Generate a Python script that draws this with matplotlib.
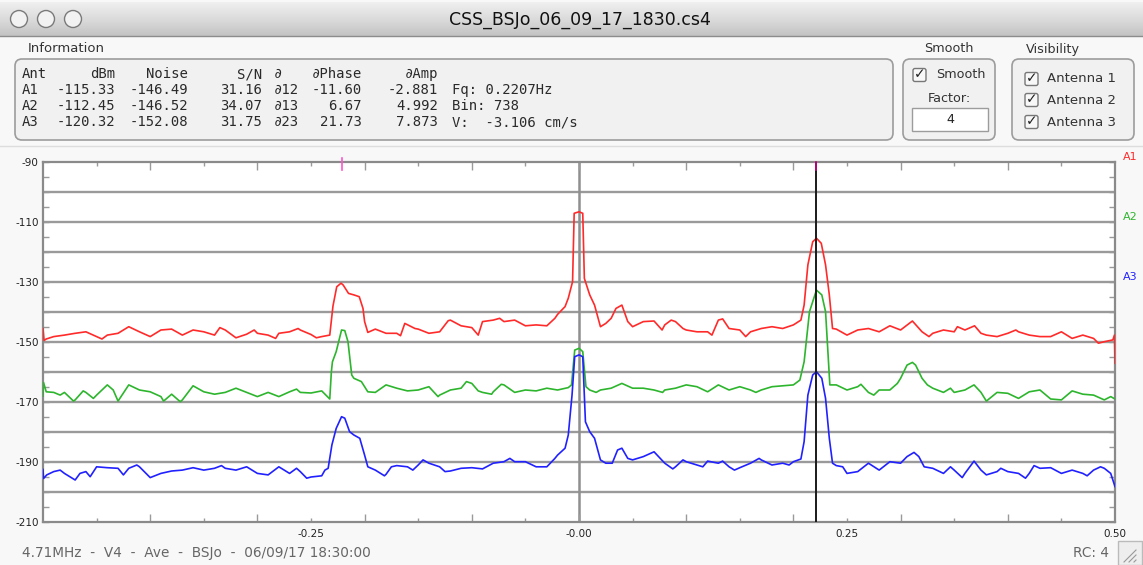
import numpy as np
import matplotlib.pyplot as plt
from matplotlib.patches import FancyBboxPatch, Rectangle, Circle

# spectra: doppler freq (Hz) vs power (dBm)
a1_freq = [-0.5, -0.499, -0.497, -0.49, -0.48, -0.47, -0.46, -0.45, -0.445, -0.44, -0.43, -0.42, -0.41, -0.40,
           -0.39, -0.38, -0.37, -0.36, -0.35, -0.34, -0.335, -0.33, -0.32, -0.31, -0.303, -0.30, -0.29, -0.283,
           -0.28, -0.27, -0.262, -0.26, -0.25, -0.245, -0.24, -0.2325, -0.2295, -0.226, -0.222, -0.22, -0.215,
           -0.21, -0.205, -0.2015, -0.20, -0.197, -0.19, -0.18, -0.17, -0.1665, -0.1625, -0.153, -0.15, -0.14,
           -0.13, -0.122, -0.12, -0.11, -0.10, -0.094, -0.09, -0.08, -0.074, -0.07, -0.06, -0.05, -0.04, -0.03,
           -0.0225, -0.02, -0.013, -0.01, -0.006, -0.0045, 0.0, 0.0035, 0.005, 0.01, 0.0145, 0.02, 0.025, 0.03,
           0.0345, 0.04, 0.0455, 0.05, 0.06, 0.07, 0.0775, 0.08, 0.086, 0.09, 0.097, 0.10, 0.11, 0.12, 0.124,
           0.13, 0.134, 0.14, 0.15, 0.1555, 0.16, 0.17, 0.18, 0.19, 0.20, 0.207, 0.21, 0.2135, 0.218, 0.2215,
           0.226, 0.23, 0.2335, 0.2365, 0.24, 0.25, 0.26, 0.27, 0.28, 0.29, 0.30, 0.311, 0.32, 0.3265, 0.33,
           0.34, 0.35, 0.353, 0.36, 0.369, 0.375, 0.38, 0.39, 0.40, 0.4075, 0.41, 0.42, 0.43, 0.44, 0.45, 0.46,
           0.47, 0.48, 0.4845, 0.49, 0.498, 0.4995, 0.5]
a1_dbm = [-145.5, -149.5, -149.0, -148.2, -147.7, -147.1, -146.6, -148.2, -149.0, -147.7, -147.1, -144.9, -146.6,
          -148.2, -146.0, -145.7, -147.7, -146.0, -146.6, -147.7, -145.2, -146.0, -148.6, -147.4, -146.0, -147.1,
          -147.7, -148.8, -147.1, -146.6, -145.5, -146.0, -147.5, -148.6, -148.2, -147.7, -138.0, -131.6, -130.4,
          -131.0, -133.8, -134.3, -134.9, -138.8, -143.2, -146.8, -145.7, -147.1, -147.1, -147.9, -143.8, -145.5,
          -145.7, -147.1, -146.6, -142.9, -142.7, -144.6, -145.2, -147.7, -143.2, -142.7, -142.1, -143.2, -142.7,
          -144.6, -144.3, -144.6, -142.1, -140.8, -138.2, -135.4, -129.9, -107.1, -106.6, -107.1, -128.8, -134.3,
          -137.7, -144.9, -143.8, -142.1, -138.8, -137.7, -143.2, -144.9, -143.2, -143.0, -146.0, -144.3, -142.7,
          -143.2, -145.5, -146.0, -146.6, -146.6, -147.7, -142.7, -142.3, -145.5, -146.0, -148.2, -146.6, -145.5,
          -144.9, -145.5, -144.3, -142.7, -137.7, -124.3, -116.6, -115.4, -117.1, -124.3, -134.3, -145.5, -145.7,
          -147.7, -146.0, -145.5, -146.6, -144.6, -146.0, -143.0, -146.6, -148.2, -147.1, -146.0, -146.6, -144.9,
          -146.0, -144.6, -147.1, -147.7, -148.2, -147.1, -146.0, -146.6, -147.7, -148.2, -148.2, -146.6, -148.8,
          -147.7, -148.8, -150.4, -149.9, -149.3, -147.7, -157.1]

a2_freq = [-0.5, -0.4995, -0.497, -0.49, -0.484, -0.48, -0.4715, -0.47, -0.4625, -0.46, -0.453, -0.45, -0.44,
           -0.4345, -0.43, -0.42, -0.41, -0.40, -0.39, -0.3875, -0.38, -0.372, -0.37, -0.36, -0.35, -0.34, -0.33,
           -0.32, -0.31, -0.30, -0.29, -0.28, -0.27, -0.2635, -0.26, -0.25, -0.24, -0.2325, -0.231, -0.23, -0.2265,
           -0.2215, -0.2185, -0.2155, -0.212, -0.21, -0.203, -0.197, -0.19, -0.18, -0.17, -0.16, -0.15, -0.14,
           -0.1315, -0.13, -0.12, -0.11, -0.105, -0.10, -0.094, -0.09, -0.0815, -0.08, -0.0725, -0.07, -0.06,
           -0.05, -0.04, -0.03, -0.02, -0.01, -0.007, -0.004, 0.0, 0.0035, 0.0065, 0.01, 0.016, 0.02, 0.03, 0.04,
           0.05, 0.06, 0.07, 0.078, 0.08, 0.09, 0.10, 0.11, 0.12, 0.13, 0.14, 0.15, 0.16, 0.165, 0.17, 0.18, 0.19,
           0.20, 0.206, 0.21, 0.215, 0.2215, 0.2265, 0.23, 0.234, 0.24, 0.25, 0.26, 0.263, 0.27, 0.275, 0.28, 0.29,
           0.297, 0.30, 0.306, 0.311, 0.314, 0.32, 0.325, 0.33, 0.34, 0.3465, 0.35, 0.36, 0.3685, 0.375, 0.38,
           0.39, 0.40, 0.41, 0.42, 0.43, 0.44, 0.45, 0.46, 0.47, 0.48, 0.49, 0.496, 0.5]
a2_dbm = [-168.0, -163.5, -166.6, -166.8, -167.7, -166.8, -169.7, -169.3, -166.3, -166.8, -168.8, -167.7, -164.3,
          -166.0, -169.7, -164.3, -166.0, -166.6, -168.2, -169.7, -167.4, -169.9, -169.3, -164.6, -166.6, -167.4,
          -166.8, -165.4, -166.8, -168.2, -166.8, -168.2, -166.6, -165.7, -166.8, -167.0, -166.3, -169.0, -159.9,
          -156.6, -153.2, -146.0, -146.2, -149.9, -161.0, -162.1, -163.2, -166.6, -166.8, -164.3, -165.4, -166.3,
          -166.0, -164.9, -168.2, -167.7, -166.0, -165.4, -163.2, -163.8, -166.3, -166.8, -167.4, -166.6, -164.1,
          -164.3, -166.8, -166.0, -166.3, -165.4, -166.0, -165.2, -164.3, -152.7, -152.1, -153.2, -164.9, -166.0,
          -166.8, -166.0, -165.4, -163.8, -165.4, -165.4, -166.0, -166.8, -166.0, -165.4, -164.3, -164.9, -166.6,
          -164.3, -166.0, -164.9, -166.0, -166.8, -166.0, -164.9, -164.6, -164.3, -162.7, -156.6, -139.9, -132.7,
          -134.3, -139.9, -164.3, -164.3, -166.0, -164.9, -164.1, -166.8, -167.7, -166.0, -166.0, -163.8, -162.1,
          -157.7, -156.8, -157.7, -162.1, -164.3, -165.4, -166.8, -165.4, -166.8, -166.0, -164.3, -166.8, -169.7,
          -166.8, -167.1, -168.8, -166.6, -166.0, -169.0, -169.3, -166.3, -167.4, -167.7, -169.3, -168.2, -169.0]

a3_freq = [-0.5, -0.4995, -0.4965, -0.49, -0.484, -0.48, -0.47, -0.4655, -0.46, -0.456, -0.45, -0.44, -0.43,
           -0.425, -0.42, -0.4125, -0.41, -0.40, -0.39, -0.38, -0.37, -0.36, -0.35, -0.34, -0.3335, -0.33, -0.32,
           -0.31, -0.30, -0.29, -0.28, -0.27, -0.2635, -0.26, -0.254, -0.25, -0.24, -0.237, -0.234, -0.2305,
           -0.2265, -0.2215, -0.2185, -0.214, -0.21, -0.2045, -0.20, -0.197, -0.19, -0.1815, -0.18, -0.175, -0.17,
           -0.16, -0.155, -0.15, -0.1455, -0.14, -0.13, -0.125, -0.12, -0.11, -0.10, -0.09, -0.08, -0.07, -0.0645,
           -0.06, -0.05, -0.04, -0.03, -0.0225, -0.02, -0.013, -0.01, -0.0065, -0.004, 0.0, 0.0035, 0.006, 0.01,
           0.0145, 0.02, 0.025, 0.031, 0.036, 0.04, 0.0455, 0.05, 0.06, 0.07, 0.08, 0.0875, 0.09, 0.097, 0.10,
           0.11, 0.1155, 0.12, 0.13, 0.134, 0.14, 0.145, 0.15, 0.16, 0.168, 0.17, 0.18, 0.19, 0.196, 0.20, 0.207,
           0.21, 0.2135, 0.218, 0.2215, 0.2265, 0.23, 0.2335, 0.2365, 0.24, 0.246, 0.25, 0.26, 0.27, 0.28, 0.29,
           0.30, 0.306, 0.3125, 0.317, 0.322, 0.33, 0.34, 0.3465, 0.35, 0.3575, 0.36, 0.3685, 0.375, 0.38, 0.39,
           0.3935, 0.40, 0.41, 0.4165, 0.42, 0.4245, 0.43, 0.44, 0.45, 0.46, 0.47, 0.474, 0.48, 0.4865, 0.49,
           0.496, 0.5]
a3_dbm = [-192.5, -195.5, -194.3, -193.2, -192.7, -193.8, -196.0, -193.8, -193.2, -194.9, -191.6, -191.9, -192.1,
          -194.3, -192.1, -191.0, -191.6, -195.2, -193.8, -193.0, -192.7, -191.9, -192.7, -192.1, -191.2, -192.1,
          -192.7, -191.6, -193.8, -194.3, -191.6, -193.8, -192.1, -193.2, -195.4, -195.0, -194.6, -192.7, -192.1,
          -184.3, -178.8, -174.9, -175.4, -179.9, -181.0, -182.1, -187.7, -191.6, -192.7, -194.6, -194.1, -191.6,
          -191.2, -191.6, -192.7, -191.0, -189.3, -190.4, -191.6, -193.2, -193.0, -192.1, -191.9, -192.3, -190.4,
          -189.9, -188.8, -189.9, -189.9, -191.6, -191.6, -188.8, -187.7, -185.4, -181.0, -167.7, -154.9, -154.3,
          -154.9, -176.6, -179.9, -182.1, -189.3, -190.4, -190.4, -186.0, -185.4, -188.8, -189.3, -188.2, -186.6,
          -190.4, -192.3, -191.6, -189.3, -189.9, -191.0, -191.6, -189.7, -190.4, -189.7, -191.6, -192.7, -191.9,
          -190.4, -188.8, -189.3, -191.0, -190.4, -191.0, -189.9, -189.0, -183.2, -167.7, -161.0, -159.9, -162.1,
          -168.8, -182.1, -190.4, -191.2, -191.6, -193.8, -193.2, -190.4, -192.7, -189.9, -190.4, -188.2, -186.8,
          -188.2, -191.6, -192.1, -193.8, -191.6, -192.7, -195.2, -193.8, -189.7, -192.7, -194.3, -193.2, -192.1,
          -193.2, -193.8, -195.4, -193.8, -191.2, -192.1, -191.9, -193.8, -192.7, -193.8, -194.6, -192.7, -191.6,
          -192.1, -193.8, -198.2]

fq = 0.2207   # selected bragg line

# information panel
ant_names = ['A1', 'A2', 'A3']
ant_dbm = ['-115.33', '-112.45', '-120.32']
ant_noise = ['-146.49', '-146.52', '-152.08']
ant_snr = ['31.16', '34.07', '31.75']
pair_names = ['∂12', '∂13', '∂23']
pair_phase = ['-11.60', '6.67', '21.73']
pair_amp = ['-2.881', '4.992', '7.873']
extra_info = ['Fq: 0.2207Hz', 'Bin: 738', 'V:  -3.106 cm/s']
header = ['Ant', 'dBm', 'Noise', 'S/N', '∂', '∂Phase', '∂Amp']

x_ticklabels = ['-0.25', '-0.00', '0.25', '0.50']
x_tickpos = [-0.25, 0.0, 0.25, 0.5]
y_ticklabels = [-90, -110, -130, -150, -170, -190, -210]

W, H = 1143, 565
fig = plt.figure(figsize=(W / 100, H / 100), dpi=100)
fig.patch.set_facecolor('#f8f8f8')

# window chrome drawn in pixel coordinates
ui = fig.add_axes([0, 0, 1, 1], zorder=0)
ui.set_xlim(0, W)
ui.set_ylim(H, 0)
ui.axis('off')

grad = np.linspace(0, 1, 40).reshape(-1, 1)
ui.imshow(grad, extent=(0, W, 36, 2), aspect='auto', cmap='Greys', vmin=-0.6, vmax=4.0, zorder=1)
ui.set_xlim(0, W)
ui.set_ylim(H, 0)
ui.plot([0, W], [36, 36], color='#8c8c8c', lw=1)
for cx in [19, 46, 73]:
    ui.add_patch(Circle((cx, 19), 8.5, facecolor='#f2f2f2', edgecolor='#7a7a7a', lw=1, zorder=2))
ui.text(580, 20, 'CSS_BSJo_06_09_17_1830.cs4', ha='center', va='center', fontsize=12.5, color='#111111', zorder=3)


def panel(x0, y0, x1, y1):
    ui.add_patch(FancyBboxPatch((x0, y0), x1 - x0, y1 - y0, boxstyle='round,pad=0,rounding_size=7',
                                facecolor='#f1f1f1', edgecolor='#9c9c9c', lw=1.2, zorder=1))


panel(15, 59, 893, 140)
panel(903, 59, 995, 140)
panel(1012, 59, 1134, 140)
ui.text(28, 49, 'Information', fontsize=9.5, color='#333333', va='center')
ui.text(949, 49, 'Smooth', fontsize=9.2, color='#333333', va='center', ha='center')
ui.text(1053, 49, 'Visibility', fontsize=9.2, color='#333333', va='center', ha='center')

mono = dict(family='DejaVu Sans Mono', fontsize=10, color='#2a2a2a', va='center', zorder=3)
col_x = [22, 115, 188, 262, 274, 362, 438]
col_ha = ['left', 'right', 'right', 'right', 'left', 'right', 'right']
row_y = [74, 90, 106, 122]
for j, h in enumerate(header):
    ui.text(col_x[j], row_y[0], h, ha=col_ha[j], **mono)
for i in range(3):
    cells = [ant_names[i], ant_dbm[i], ant_noise[i], ant_snr[i], pair_names[i], pair_phase[i], pair_amp[i]]
    for j, c in enumerate(cells):
        ui.text(col_x[j], row_y[i + 1], c, ha=col_ha[j], **mono)
    ui.text(452, row_y[i + 1], extra_info[i], ha='left', **mono)


def checkbox(x, y):
    ui.add_patch(FancyBboxPatch((x, y - 6.5), 13, 13, boxstyle='round,pad=0,rounding_size=2',
                                facecolor='#f8f8f8', edgecolor='#777777', lw=1, zorder=3))
    ui.text(x + 7, y - 1, '✓', fontsize=10, ha='center', va='center', color='#222222', zorder=4)


checkbox(913, 75)
ui.text(936, 75, 'Smooth', fontsize=9.2, color='#333333', va='center')
ui.text(949, 98, 'Factor:', fontsize=9.2, color='#333333', va='center', ha='center')
ui.add_patch(Rectangle((912, 108), 76, 23, facecolor='white', edgecolor='#9c9c9c', lw=1, zorder=3))
ui.text(950, 119.5, '4', fontsize=9.2, color='#222222', va='center', ha='center', zorder=4)
for k, yy in enumerate([79, 100, 122]):
    checkbox(1025, yy)
    ui.text(1047, yy, 'Antenna %d' % (k + 1), fontsize=9.5, color='#333333', va='center')

ui.plot([0, W], [146, 146], color='#dddddd', lw=1)

# status bar
ui.text(22, 553, '4.71MHz  -  V4  -  Ave  -  BSJo  -  06/09/17 18:30:00', fontsize=9.8, color='#666666',
        va='center')
ui.text(1109, 553, 'RC: 4', fontsize=9.8, color='#666666', va='center', ha='right')
ui.add_patch(Rectangle((1118, 541), 24, 24, facecolor='#eeeeee', edgecolor='#bbbbbb', lw=1))
for d in [0, 5, 10]:
    ui.plot([1124 + d, 1136], [562, 550 + d], color='#999999', lw=0.8)

# spectra axes
ax = fig.add_axes([43 / W, 1 - 522 / H, 1072 / W, 360 / H], zorder=2)
ax.set_facecolor('white')
ax.set_xlim(-0.5, 0.5)
ax.set_ylim(-210, -90)

for v in range(-200, -90, 10):
    ax.axhline(v, color='#9a9a9a', lw=1.7, zorder=1)
ax.axvline(0.0, color='#8f8f8f', lw=1.8, zorder=1)

ax.plot(a1_freq, a1_dbm, color='#ff2a2a', lw=1.2, zorder=3)
ax.plot(a2_freq, a2_dbm, color='#2db52d', lw=1.2, zorder=3)
ax.plot(a3_freq, a3_dbm, color='#2121ff', lw=1.2, zorder=3)

ax.axvline(fq, color='#1a1a1a', lw=1.4, zorder=4)
ax.plot([-fq, -fq], [-88.5, -92.5], color='#ff55cc', lw=1.2, zorder=5, clip_on=False)
ax.plot([fq, fq], [-90, -92.5], color='#cc0088', lw=1.2, zorder=5, clip_on=False)

for s in ax.spines.values():
    s.set_color('#8a8a8a')
    s.set_linewidth(1.6)

ax.set_yticks(y_ticklabels)
ax.set_yticklabels([str(v) for v in y_ticklabels])
ax.set_yticks(np.arange(-205, -90, 5), minor=True)
ax.set_xticks(np.round(np.arange(-0.4, 0.45, 0.1), 2))
ax.set_xticklabels([])
ax.set_xticks(np.round(np.arange(-0.45, 0.5, 0.1), 2), minor=True)
ax.tick_params(axis='y', which='both', direction='in', left=True, right=True, length=4, width=1,
               color='#9a9a9a', labelsize=7.5, labelcolor='#222222', pad=3)
ax.tick_params(axis='x', which='major', direction='in', top=True, bottom=True, length=6, width=1,
               color='#9a9a9a')
ax.tick_params(axis='x', which='minor', direction='in', top=True, bottom=True, length=3, width=1,
               color='#9a9a9a')
for xp, lab in zip(x_tickpos, x_ticklabels):
    ax.text(xp, -214, lab, ha='center', va='center', fontsize=7.5, color='#222222', clip_on=False)

# channel tags on the right
for lab, col, yv in [('A1', '#ff2a2a', -88.5), ('A2', '#2db52d', -108.5), ('A3', '#2121ff', -128.5)]:
    ax.text(0.507, yv, lab, ha='left', va='center', fontsize=8, color=col, clip_on=False)

fig.savefig('out.png', dpi=100, facecolor=fig.get_facecolor())
